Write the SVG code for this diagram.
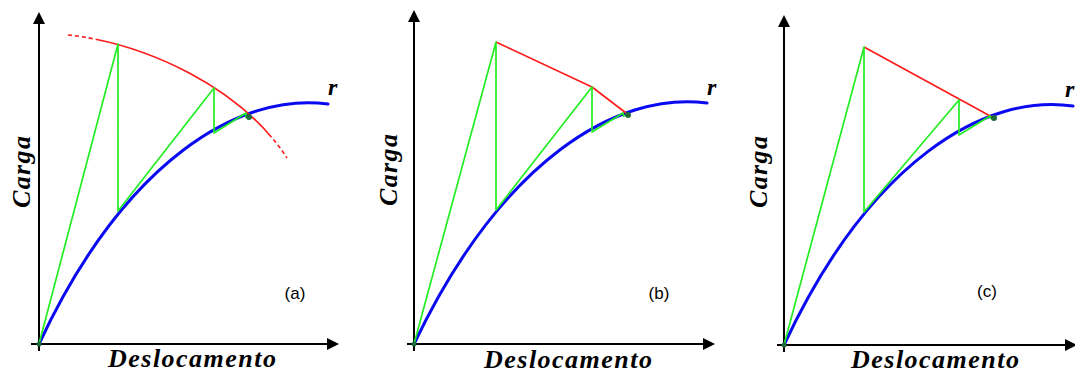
<svg xmlns="http://www.w3.org/2000/svg" width="1075" height="374" viewBox="0 0 1075 374">
<style>
.axis{stroke:#000;stroke-width:2;fill:none}
.blue{stroke:#0a0af0;stroke-width:3;fill:none;stroke-linecap:round}
.green{stroke:#22ee22;stroke-width:1.7;fill:none;stroke-linejoin:round}
.red{stroke:#ff1a1a;stroke-width:1.6;fill:none;stroke-linejoin:round}
.dot{fill:#1f6b3a}
.lbl{font-family:"Liberation Serif",serif;font-weight:bold;font-style:italic;font-size:26px;fill:#000}
.r{font-family:"Liberation Serif",serif;font-weight:bold;font-style:italic;font-size:24px;fill:#000}
.tag{font-family:"Liberation Sans",Arial,sans-serif;font-size:17px;fill:#000}
</style>
<defs>
<marker id="ah" markerWidth="12" markerHeight="12" refX="6" refY="6" orient="auto" markerUnits="userSpaceOnUse">
<path d="M0,0 L12,6 L0,12 z" fill="#000"/>
</marker>
</defs>
<rect width="1075" height="374" fill="#fff"/>

<g id="panel-a">
<g id="axes-a">
<line class="axis" x1="39" y1="351" x2="39" y2="18" marker-end="url(#ah)"/>
<line class="axis" x1="31" y1="344" x2="333" y2="344" marker-end="url(#ah)"/>
</g>
<path class="blue" d="M39,344 C125,160 240,92 328,104"/>
<path class="red" pathLength="259" stroke-dasharray="4 3 4 3 4 3 4 3 205 3 4 3 4 3 4 3 4 100" d="M68,35 C140,42 240,85 287,158"/>
<g class="green">
<path d="M39,344 L118,44 L118,211 L214,88 L214,133 L246,113 L246,118"/>
</g>
<circle class="dot" cx="39" cy="344" r="2.5"/>
<circle class="dot" cx="249" cy="117" r="3"/>
<text class="r" x="328" y="95">r</text>
<text class="lbl" transform="translate(30,172) rotate(-90)" text-anchor="middle" textLength="72" lengthAdjust="spacing">Carga</text>
<text class="lbl" x="192" y="367" text-anchor="middle" textLength="168" lengthAdjust="spacing">Deslocamento</text>
<text class="tag" x="295" y="299" text-anchor="middle">(a)</text>
</g>

<g id="panel-b">
<g id="axes-b">
<line class="axis" x1="414" y1="351" x2="414" y2="16" marker-end="url(#ah)"/>
<line class="axis" x1="407" y1="344" x2="709" y2="344" marker-end="url(#ah)"/>
</g>
<path class="blue" d="M414,344 C502,160 617,91 707,103"/>
<path class="red" d="M496,42 L592,87 L626,113"/>
<g class="green">
<path d="M414,344 L496,42 L496,210 L592,87 L592,132 L623,113 L624,117"/>
</g>
<circle class="dot" cx="414" cy="344" r="2.5"/>
<circle class="dot" cx="628" cy="115" r="3"/>
<text class="r" x="707" y="95">r</text>
<text class="lbl" transform="translate(397,170) rotate(-90)" text-anchor="middle" textLength="72" lengthAdjust="spacing">Carga</text>
<text class="lbl" x="568" y="368" text-anchor="middle" textLength="168" lengthAdjust="spacing">Deslocamento</text>
<text class="tag" x="659" y="299" text-anchor="middle">(b)</text>
</g>

<g id="panel-c">
<g id="axes-c">
<line class="axis" x1="784" y1="352" x2="784" y2="21" marker-end="url(#ah)"/>
<line class="axis" x1="777" y1="345" x2="1071" y2="345" marker-end="url(#ah)"/>
</g>
<path class="blue" d="M784,345 C870,161 985,93 1073,106"/>
<path class="red" d="M864,47 L992,117"/>
<g class="green">
<path d="M784,345 L864,47 L864,212 L959,100 L959,135 L990,116 L991,119"/>
</g>
<circle class="dot" cx="784" cy="345" r="2.5"/>
<circle class="dot" cx="994" cy="118" r="3"/>
<text class="r" x="1065" y="97">r</text>
<text class="lbl" transform="translate(767,172) rotate(-90)" text-anchor="middle" textLength="72" lengthAdjust="spacing">Carga</text>
<text class="lbl" x="935" y="368" text-anchor="middle" textLength="168" lengthAdjust="spacing">Deslocamento</text>
<text class="tag" x="987" y="297" text-anchor="middle">(c)</text>
</g>
</svg>
